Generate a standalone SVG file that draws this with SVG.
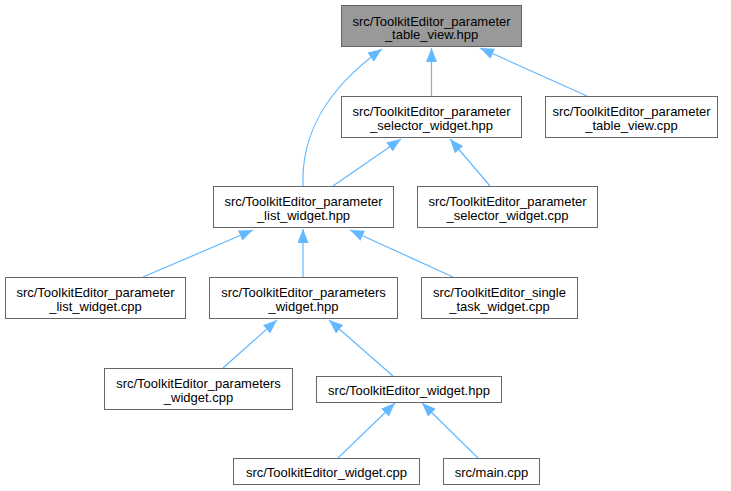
<svg xmlns="http://www.w3.org/2000/svg" width="731" height="491" viewBox="0 0 731 491">
<style>
.n rect{fill:#ffffff;stroke:#666666;stroke-width:1}
.n.hl rect{fill:#999999}
.n text{font-family:"Liberation Sans",Arial,sans-serif;font-size:13px;fill:#000000;text-anchor:middle}
.e path{fill:none;stroke:#63b8ff;stroke-width:1.2;marker-end:url(#ah)}
</style>
<defs>
<marker id="ah" markerUnits="userSpaceOnUse" markerWidth="14" markerHeight="11" viewBox="0 0 14 11" refX="14" refY="5.5" orient="auto">
<path d="M0,0 L14,5.5 L0,11 z" fill="#63b8ff" stroke="none"/>
</marker>
</defs>
<rect width="731" height="491" fill="#ffffff"/>
<g class="e" id="edges">
<path d="M303,186 C301,135 325,90 382,49"/>
<path d="M431.5,96 L431.5,48"/>
<path d="M587,96 L480,48"/>
<path d="M333,186 L401,139"/>
<path d="M490,186 L450,139"/>
<path d="M143,277 L253,230"/>
<path d="M303,277 L303,229"/>
<path d="M453,277 L350,230"/>
<path d="M223,368 L277,320"/>
<path d="M393,376 L329,320"/>
<path d="M338,458 L395,403"/>
<path d="M478,458 L422,403"/>
</g>
<g class="n hl" id="n1"><rect x="341.5" y="5.5" width="180" height="41"/><text x="431.5" y="25.5">src/ToolkitEditor_parameter</text><text x="431.5" y="39">_table_view.hpp</text></g>
<g class="n" id="n2"><rect x="341.5" y="96.5" width="180" height="41"/><text x="431.5" y="116">src/ToolkitEditor_parameter</text><text x="431.5" y="129.5">_selector_widget.hpp</text></g>
<g class="n" id="n3"><rect x="545.5" y="96.5" width="172" height="41"/><text x="631.5" y="116">src/ToolkitEditor_parameter</text><text x="631.5" y="129.5">_table_view.cpp</text></g>
<g class="n" id="n4"><rect x="213.5" y="186.5" width="180" height="41"/><text x="303.5" y="206">src/ToolkitEditor_parameter</text><text x="303.5" y="219.5">_list_widget.hpp</text></g>
<g class="n" id="n5"><rect x="417.5" y="186.5" width="180" height="41"/><text x="507.5" y="206">src/ToolkitEditor_parameter</text><text x="507.5" y="219.5">_selector_widget.cpp</text></g>
<g class="n" id="n6"><rect x="5.5" y="277.5" width="180" height="41"/><text x="95.5" y="297">src/ToolkitEditor_parameter</text><text x="95.5" y="310.5">_list_widget.cpp</text></g>
<g class="n" id="n7"><rect x="209.5" y="277.5" width="188" height="41"/><text x="303.5" y="297">src/ToolkitEditor_parameters</text><text x="303.5" y="310.5">_widget.hpp</text></g>
<g class="n" id="n8"><rect x="421.5" y="277.5" width="156" height="41"/><text x="499.5" y="297">src/ToolkitEditor_single</text><text x="499.5" y="310.5">_task_widget.cpp</text></g>
<g class="n" id="n9"><rect x="104.5" y="368.5" width="188" height="41"/><text x="198.5" y="388">src/ToolkitEditor_parameters</text><text x="198.5" y="401.5">_widget.cpp</text></g>
<g class="n" id="n10"><rect x="316.5" y="376.5" width="185" height="26"/><text x="409" y="395">src/ToolkitEditor_widget.hpp</text></g>
<g class="n" id="n11"><rect x="233.5" y="458.5" width="186" height="26"/><text x="326.5" y="477">src/ToolkitEditor_widget.cpp</text></g>
<g class="n" id="n12"><rect x="443.5" y="458.5" width="96" height="26"/><text x="491.5" y="477">src/main.cpp</text></g>
</svg>
